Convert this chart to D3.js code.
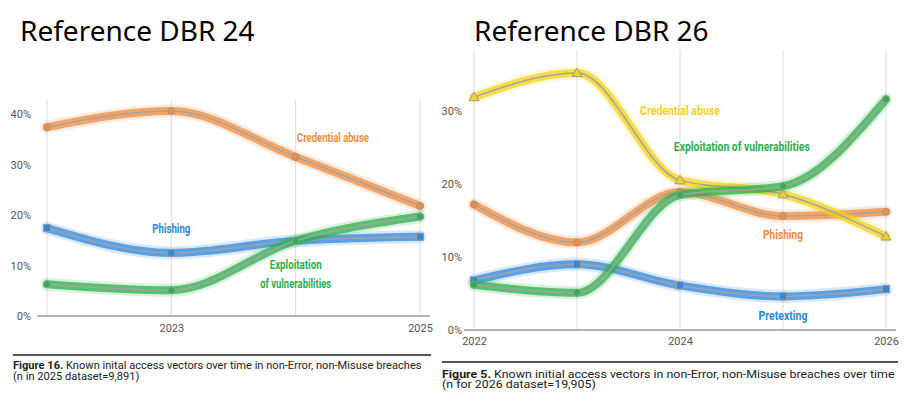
<!DOCTYPE html>
<html>
<head>
<meta charset="utf-8">
<script src="https://cdn.jsdelivr.net/npm/d3@7"></script>
<style>
  body { margin: 0; background: #fff; }
  svg { display: block; }
  .title { font-family: "Noto Sans", sans-serif; font-size: 28px; fill: #000; }
  .tick text { font-family: Roboto, sans-serif; font-size: 11px; fill: #555; }
  .series-label { font-family: Roboto, sans-serif; font-weight: bold; font-size: 12px; }
  .caption { font-family: Roboto, sans-serif; font-size: 10.5px; fill: #222; }
</style>
</head>
<body>
<svg id="chart" width="914" height="412"></svg>
<script>
// Data (percent of breaches)

// DBR 24
const years24 = [2022, 2023, 2024, 2025];
const credential24 = [37.4, 40.6, 31.5, 21.8];
const phishing24 = [17.4, 12.5, 14.9, 15.7];
const exploitation24 = [6.3, 5.1, 14.9, 19.7];
const yTicks24 = [0, 10, 20, 30, 40];
const xTicks24 = [2023, 2025];

// DBR 26
const years26 = [2022, 2023, 2024, 2025, 2026];
const pretexting26 = [6.8, 9.0, 6.1, 4.6, 5.6];
const phishing26 = [17.2, 12.0, 18.9, 15.6, 16.2];
const credential26 = [31.9, 35.2, 20.5, 18.6, 12.8];
const exploitation26 = [6.2, 5.1, 18.5, 19.7, 31.6];
const yTicks26 = [0, 10, 20, 30];
const xTicks26 = [2022, 2024, 2026];

const colors = {
    orange: "#f28c3f",
    blue: "#2f87dc",
    green: "#2bb04b",
    yellow: "#f6d21a"
};

const svg = d3.select("#chart");

// Titles
svg.append("text").attr("class", "title").attr("x", 20).attr("y", 41).text("Reference DBR 24");
svg.append("text").attr("class", "title").attr("x", 474).attr("y", 41).text("Reference DBR 26");

function marker(g, shape, cx, cy, color) {
    if (shape == "square") {
        g.append("rect")
            .attr("x", cx - 3.5).attr("y", cy - 3.5)
            .attr("width", 7).attr("height", 7)
            .attr("fill", color).attr("stroke", "#9a9a9a").attr("stroke-width", 1);
    } else if (shape == "triangle") {
        g.append("path")
            .attr("d", `M${cx},${cy - 5}L${cx + 5},${cy + 3.5}L${cx - 5},${cy + 3.5}Z`)
            .attr("fill", color).attr("stroke", "#9a9a9a").attr("stroke-width", 1);
    } else {
        g.append("circle")
            .attr("cx", cx).attr("cy", cy).attr("r", 3.5)
            .attr("fill", color).attr("stroke", "#9a9a9a").attr("stroke-width", 1);
    }
}

function drawPanel(p) {
    const x = d3.scaleLinear().domain(d3.extent(p.years)).range(p.xRange);
    const y = d3.scaleLinear().domain(p.yDomain).range(p.yRange);
    const g = svg.append("g");

    // Vertical gridlines
    g.append("g")
        .selectAll("line")
        .data(p.years)
        .join("line")
        .attr("x1", (d) => x(d)).attr("x2", (d) => x(d))
        .attr("y1", p.gridTop).attr("y2", y(0))
        .attr("stroke", "#dedede").attr("stroke-width", 1);

    // Baseline
    g.append("line")
        .attr("x1", p.xRange[0] - 10).attr("x2", p.xRange[1] + 10)
        .attr("y1", y(0)).attr("y2", y(0))
        .attr("stroke", "#9a9a9a").attr("stroke-width", 1.5);

    // Y axis
    g.append("g")
        .attr("transform", `translate(${p.yAxisX},0)`)
        .call(d3.axisLeft(y).tickValues(p.yTicks).tickSize(0).tickPadding(0).tickFormat((d) => d + "%"))
        .call((a) => a.select(".domain").remove());

    // X axis
    g.append("g")
        .attr("transform", `translate(0,${y(0)})`)
        .call(d3.axisBottom(x).tickValues(p.xTicks).tickSize(0).tickPadding(p.xPad).tickFormat(d3.format("d")))
        .call((a) => a.select(".domain").remove());

    const line = d3.line()
        .x((d, i) => x(p.years[i]))
        .y((d) => y(d))
        .curve(d3.curveMonotoneX);

    for (let s of p.series) {
        const sg = g.append("g");
        sg.append("path").attr("d", line(s.values)).attr("fill", "none")
            .attr("stroke", s.color).attr("stroke-width", 13).attr("stroke-opacity", 0.18)
            .attr("stroke-linecap", "round");
        sg.append("path").attr("d", line(s.values)).attr("fill", "none")
            .attr("stroke", s.color).attr("stroke-width", 8).attr("stroke-opacity", 0.75)
            .attr("stroke-linecap", "round");
        sg.append("path").attr("d", line(s.values)).attr("fill", "none")
            .attr("stroke", "#a3a3a3").attr("stroke-width", 1.5);
        s.values.forEach((v, i) => marker(sg, s.shape, x(p.years[i]), y(v), s.color));
    }

    // Series labels
    for (let l of p.labels) {
        g.append("text")
            .attr("class", "series-label")
            .attr("x", x(l.year)).attr("y", y(l.value))
            .attr("dy", "0.35em")
            .attr("text-anchor", "middle")
            .attr("fill", l.color)
            .attr("textLength", l.width)
            .attr("lengthAdjust", "spacingAndGlyphs")
            .text(l.text);
    }

    // Caption
    g.append("line")
        .attr("x1", p.caption.x1).attr("x2", p.caption.x2)
        .attr("y1", p.caption.ruleY).attr("y2", p.caption.ruleY)
        .attr("stroke", "#555").attr("stroke-width", 2);
    const cg = g.append("g");
    const t1 = cg.append("text").attr("class", "caption").attr("y", 0);
    t1.append("tspan").attr("font-weight", "bold").text(p.caption.bold);
    t1.append("tspan").text(p.caption.line1);
    cg.append("text").attr("class", "caption").attr("y", p.caption.lineGap).text(p.caption.line2);
    const sx = p.caption.width / t1.node().getComputedTextLength();
    cg.attr("transform", `translate(${p.caption.x1},${p.caption.y}) scale(${sx},1)`);
}

drawPanel({
    years: years24,
    xRange: [47, 420],
    yDomain: [0, 40],
    yRange: [316, 114],
    gridTop: 100,
    yAxisX: 31,
    yTicks: yTicks24,
    xTicks: xTicks24,
    xPad: 8,
    series: [
        { values: credential24, color: colors.orange, shape: "circle" },
        { values: phishing24, color: colors.blue, shape: "square" },
        { values: exploitation24, color: colors.green, shape: "circle" }
    ],
    labels: [
        { text: "Credential abuse", year: 2024.3, value: 35.2, width: 72, color: colors.orange },
        { text: "Phishing", year: 2023.0, value: 17.2, width: 38, color: colors.blue },
        { text: "Exploitation", year: 2024.0, value: 10.1, width: 52, color: colors.green },
        { text: "of vulnerabilities", year: 2024.0, value: 6.3, width: 71, color: colors.green }
    ],
    caption: {
        x1: 13, x2: 431, ruleY: 355, y: 369, lineGap: 11, width: 409,
        bold: "Figure 16.",
        line1: " Known inital access vectors over time in non-Error, non-Misuse breaches",
        line2: "(n in 2025 dataset=9,891)"
    }
});

drawPanel({
    years: years26,
    xRange: [474, 886],
    yDomain: [0, 30],
    yRange: [330, 111],
    gridTop: 50,
    yAxisX: 462,
    yTicks: yTicks26,
    xTicks: xTicks26,
    xPad: 7,
    series: [
        { values: pretexting26, color: colors.blue, shape: "square" },
        { values: phishing26, color: colors.orange, shape: "circle" },
        { values: credential26, color: colors.yellow, shape: "triangle" },
        { values: exploitation26, color: colors.green, shape: "circle" }
    ],
    labels: [
        { text: "Credential abuse", year: 2024.0, value: 30.0, width: 80, color: colors.yellow },
        { text: "Exploitation of vulnerabilities", year: 2024.6, value: 25.1, width: 136, color: colors.green },
        { text: "Phishing", year: 2025.0, value: 13.0, width: 40, color: colors.orange },
        { text: "Pretexting", year: 2025.0, value: 2.0, width: 49, color: colors.blue }
    ],
    caption: {
        x1: 442, x2: 898, ruleY: 362, y: 377.5, lineGap: 11, width: 453,
        bold: "Figure 5.",
        line1: " Known initial access vectors in non-Error, non-Misuse breaches over time",
        line2: "(n for 2026 dataset=19,905)"
    }
});
</script>
</body>
</html>
